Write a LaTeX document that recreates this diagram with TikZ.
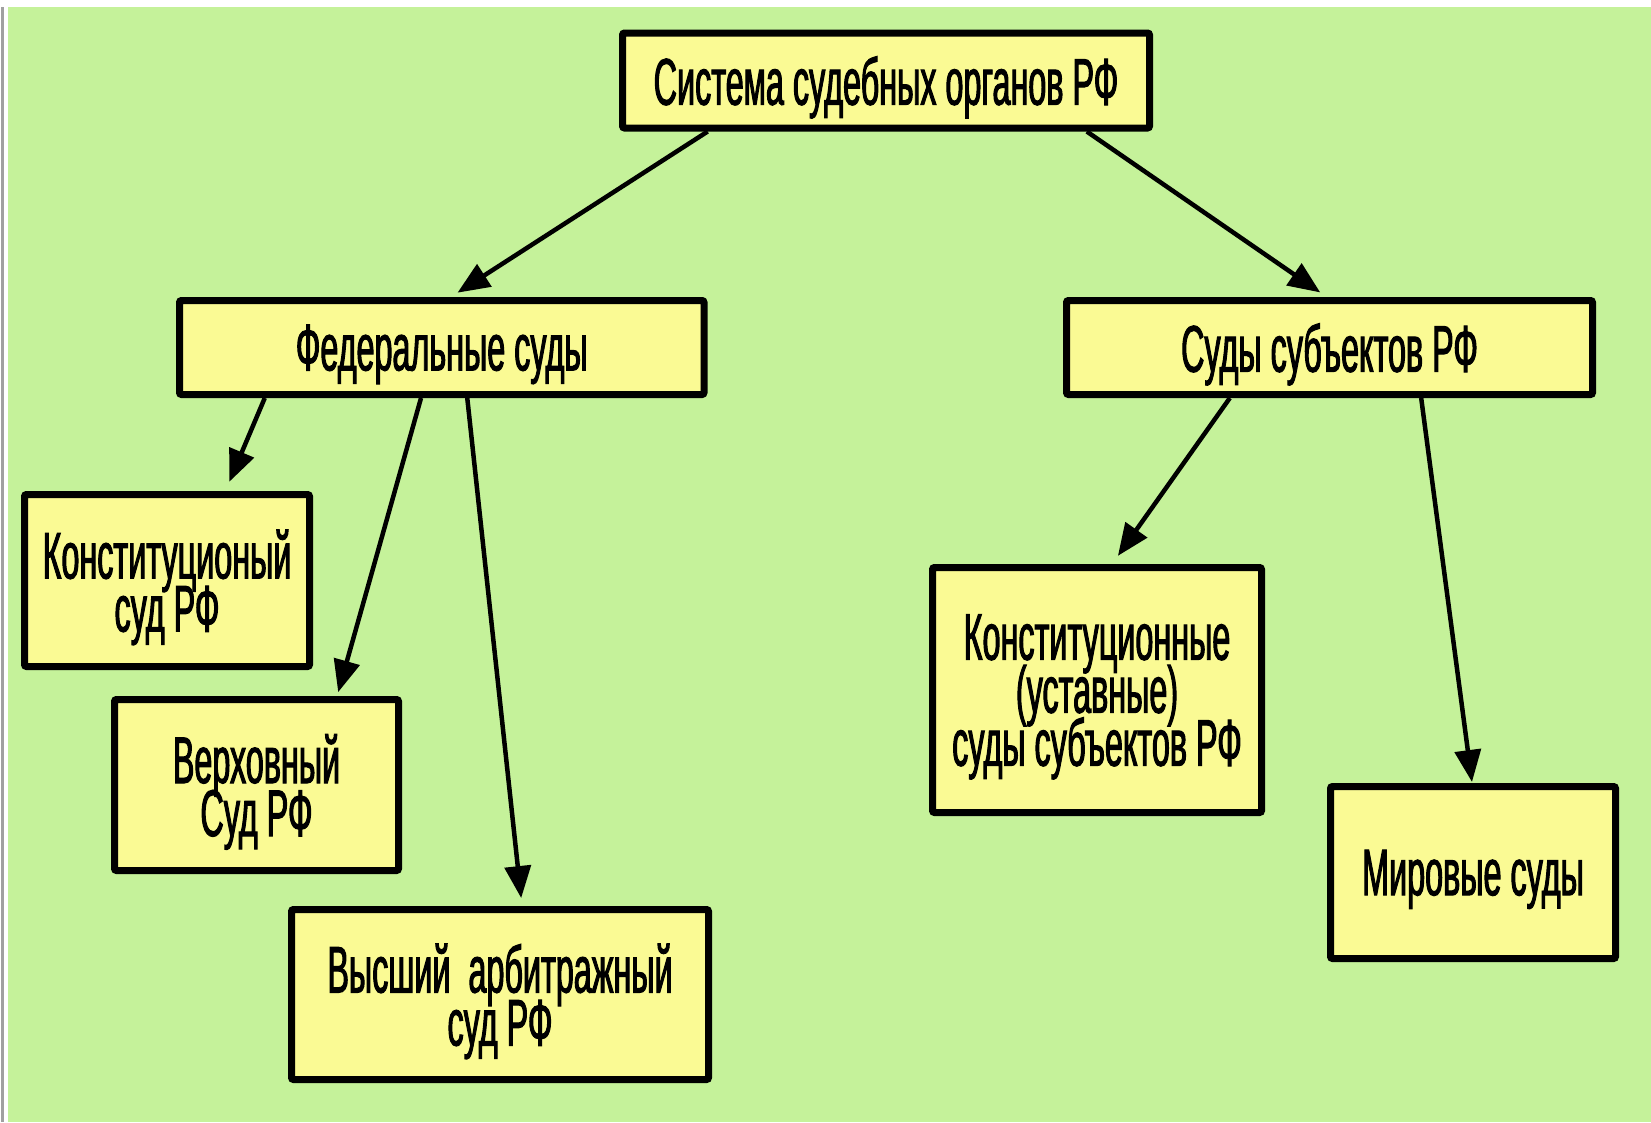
\documentclass[tikz,border=0pt]{standalone}
\usepackage{fontspec}
\setmainfont{Liberation Sans}
\newfontfamily\condfont[FakeStretch=0.49,FakeBold=1.5]{Liberation Sans}
\newcommand\myboxfont{\condfont\fontsize{66}{53}\selectfont\setlength{\lineskiplimit}{-200pt}\setlength{\lineskip}{0pt}\relax}
\usetikzlibrary{arrows.meta,calc}
\definecolor{bggreen}{RGB}{197,242,154}
\definecolor{boxyellow}{RGB}{250,250,148}
\definecolor{edgegray}{RGB}{160,160,160}
\tikzset{
  box/.style={draw=black, line width=7pt, fill=boxyellow, rounded corners=2pt,
    inner sep=0pt, align=center, text depth=0pt, font=\myboxfont},
  arr/.style={line width=4.5pt, draw=black,
    -{Triangle[length=32pt,width=26pt]}}
}
\begin{document}
\begin{tikzpicture}[x=1pt,y=-1pt]
\useasboundingbox (0,0) rectangle (1651,1122);
\fill[white] (0,0) rectangle (1651,1122);
\fill[bggreen] (8,7) rectangle (1651,1122);
\fill[edgegray] (1,7) rectangle (4,1122);

\node[box, minimum width=527pt, minimum height=95pt] (top) at (886,80.5) {Система судебных органов РФ};
\node[box, minimum width=524.5pt, minimum height=94pt] (fed) at (441.75,347.5) {Федеральные суды};
\node[box, minimum width=526pt, minimum height=94pt] (subj) at (1329.5,347.5) {Суды субъектов РФ};
\node[box, minimum width=285pt, minimum height=172pt] (konst) at (167,580.5) {Конституционый\\суд РФ};
\node[box, minimum width=284pt, minimum height=171pt] (verh) at (256.5,785) {Верховный\\Суд РФ};
\node[box, minimum width=417pt, minimum height=170pt] (vyssh) at (500,994.5) {Высший~ арбитражный\\суд РФ};
\node[box, minimum width=329pt, minimum height=245pt] (ks) at (1097,690) {Конституционные\\(уставные)\\суды субъектов РФ};
\node[box, minimum width=285pt, minimum height=172pt] (mir) at (1473,872.5) {Мировые суды};

\draw[arr, shorten >=8pt] ($(top.south west)!0.166!(top.south east)$) -- ($(fed.north west)!0.517!(fed.north east)$);
\draw[arr, shorten >=8pt] ($(top.south west)!0.876!(top.south east)$) -- ($(subj.north west)!0.495!(subj.north east)$);
\draw[arr, shorten >=10pt] ($(fed.south west)!0.167!(fed.south east)$) -- ($(konst.north west)!0.70!(konst.north east)$);
\draw[arr, shorten >=4pt] ($(fed.south west)!0.461!(fed.south east)$) -- ($(verh.north west)!0.777!(verh.north east)$);
\draw[arr, shorten >=8pt] ($(fed.south west)!0.548!(fed.south east)$) -- ($(vyssh.north west)!0.552!(vyssh.north east)$);
\draw[arr, shorten >=10pt] ($(subj.south west)!0.313!(subj.south east)$) -- ($(ks.north west)!0.545!(ks.north east)$);
\draw[arr, shorten >=1pt] ($(subj.south west)!0.672!(subj.south east)$) -- ($(mir.north west)!0.497!(mir.north east)$);
\end{tikzpicture}
\end{document}
